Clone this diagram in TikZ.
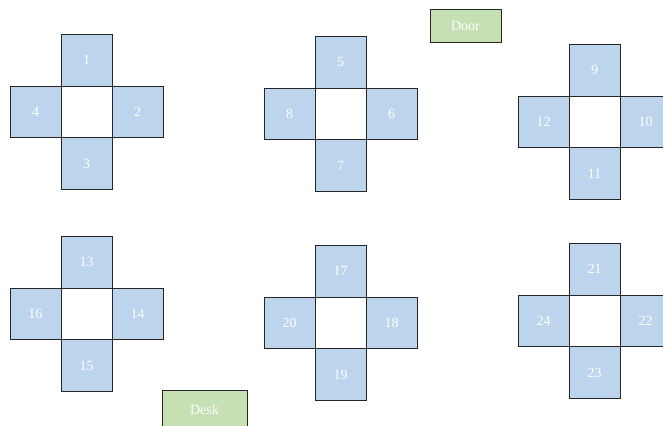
\documentclass[tikz,border=0pt]{standalone}
\usepackage{fontspec}
\setmainfont{Liberation Serif}
\usetikzlibrary{positioning}
\definecolor{seatblue}{HTML}{BDD5EC}
\definecolor{markgreen}{HTML}{C5E0B3}

\begin{document}
\begin{tikzpicture}[
        x=0.75pt, y=-0.75pt,
        node distance=0pt,
        every node/.style={rectangle, draw=black!85, line width=0.6pt, inner sep=0pt, outer sep=0pt, font=\fontsize{10.5}{12}\selectfont, text=white},
        seat/.style={fill=seatblue, minimum width=38.25pt, minimum height=38.75pt},
        tablebox/.style={fill=white, minimum width=38.25pt, minimum height=38.75pt},
        markbox/.style={fill=markgreen, minimum height=24.75pt}
    ]
        \clip (0,0) rectangle (663,425);
        % clusters: centre and first seat number
        \foreach \cx/\cy/\n [count=\i] in {86.5/112/1, 340.5/114/5, 594.5/122/9, 86.5/314/13, 340.5/323/17, 594.5/321/21} {
            \pgfmathtruncatemacro{\na}{\n+1}
            \pgfmathtruncatemacro{\nb}{\n+2}
            \pgfmathtruncatemacro{\nc}{\n+3}
            \node[tablebox] (c\i) at (\cx,\cy) {};
            \node[seat] (s\n) [above=of c\i] {\n};
            \node[seat] (s\na) [right=of c\i] {\na};
            \node[seat] (s\nb) [below=of c\i] {\nb};
            \node[seat] (s\nc) [left=of c\i] {\nc};
        }

        \node[markbox, minimum width=53.25pt] (door) at (465.5,25.5) {Door};
        \node[markbox, minimum width=63.75pt, minimum height=30pt] (desk) at (204.5,410) {Desk};
    \end{tikzpicture}
\end{document}
